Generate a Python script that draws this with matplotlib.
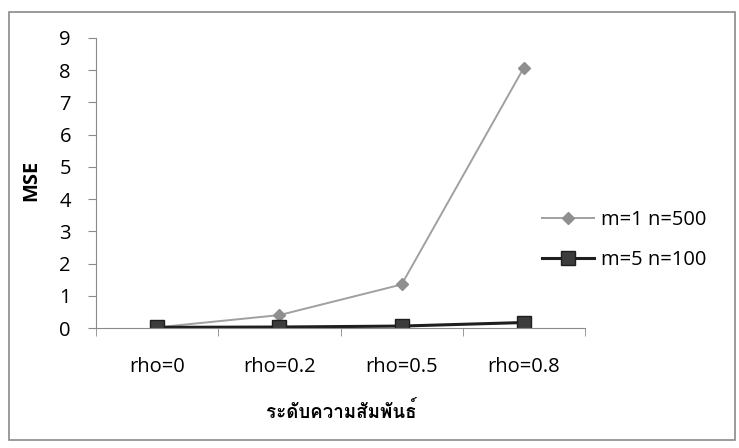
import numpy as np
import matplotlib
matplotlib.use("Agg")
import matplotlib.pyplot as plt
from matplotlib.patches import Rectangle

# ── Data ────────────────────────────────────────────────────────────────────
categories = ["rho=0", "rho=0.2", "rho=0.5", "rho=0.8"]
mse_m1_n500 = [0.02, 0.40, 1.35, 8.08]
mse_m5_n100 = [0.02, 0.03, 0.06, 0.17]
series_labels = ["m=1 n=500", "m=5 n=100"]
yticks = list(range(0, 10))
xlabel_th = "ระดับความสัมพันธ์"

BASE = "Open Sans"
THAI = ["Loma", "Athiti", "DejaVu Sans"]
FS = 14.5
GREY = "#8a8a8a"

fig = plt.figure(figsize=(7.39, 4.48), dpi=100)
# outer chart-area border
fig.patches.append(Rectangle((9 / 739, 1 - 440 / 448), 726 / 739, 428 / 448,
                             transform=fig.transFigure, fill=False,
                             edgecolor=GREY, lw=1.2))

ax = fig.add_axes([96 / 739, 1 - 328 / 448, 489 / 739, 290 / 448])
x = np.arange(len(categories))

ax.plot(x, mse_m1_n500, color="#a0a0a0", lw=1.4, marker="D", ms=6.5,
        mfc="#8f8f8f", mec="#8f8f8f", label=series_labels[0])
ax.plot(x, mse_m5_n100, color="#1e1e1e", lw=2.2, marker="s", ms=10.5,
        mfc="#3c3c3c", mec="#1e1e1e", label=series_labels[1])

ax.set_xlim(-0.5, len(categories) - 0.5)
ax.set_ylim(0, 9)
ax.set_yticks(yticks)
ax.set_yticklabels([str(v) for v in yticks], fontsize=FS, family=BASE)

# category labels centred, tick marks between categories
ax.set_xticks(x)
ax.set_xticklabels(categories, fontsize=FS, family=BASE)
ax.tick_params(axis="x", which="major", length=0, pad=21)
ax.set_xticks(np.arange(-0.5, len(categories), 1.0), minor=True)
ax.tick_params(axis="x", which="minor", length=6, color=GREY)
ax.tick_params(axis="y", length=6, color=GREY, pad=12)

for side in ("top", "right"):
    ax.spines[side].set_visible(False)
for side in ("left", "bottom"):
    ax.spines[side].set_color(GREY)

ax.set_ylabel("MSE", fontsize=FS, fontweight="bold", family=BASE)
ax.yaxis.set_label_coords(-0.112, 0.51)
fig.text(341 / 739, 1 - 411 / 448, xlabel_th, ha="center", va="center",
         fontsize=13.5, fontweight="bold", family=THAI)

fig.legend(loc="center left", bbox_to_anchor=(524 / 739, 1 - 240 / 448),
           frameon=False, prop={"family": BASE, "size": FS},
           handlelength=2.6, handletextpad=0.3, labelspacing=1.0)

fig.savefig("out.png", dpi=100)
